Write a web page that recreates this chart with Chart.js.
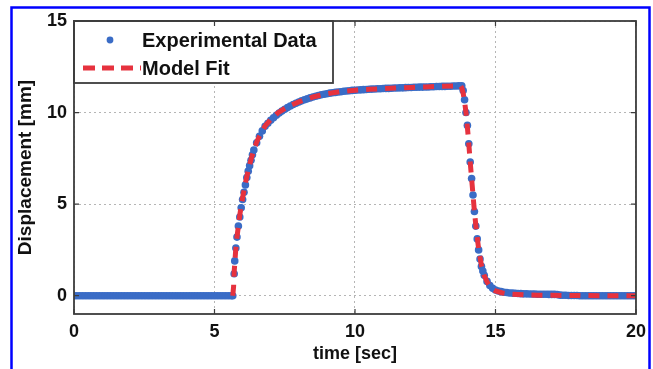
<!DOCTYPE html>
<html>
<head>
<meta charset="utf-8">
<script src="https://cdn.jsdelivr.net/npm/chart.js@4"></script>
<style>
  html, body { margin: 0; padding: 0; background: #fff; }
  #wrap { width: 653px; height: 369px; }
</style>
</head>
<body>
<div id="wrap"><canvas id="c" width="653" height="369"></canvas></div>
<script>
// experimental samples (time in sec, displacement in mm)
const expTime = [
  0,0.1,0.2,0.3,0.4,0.5,0.6,0.7,0.8,0.9,1.0,1.1,1.2,1.3,1.4,1.5,1.6,1.7,1.8,1.9,
  2.0,2.1,2.2,2.3,2.4,2.5,2.6,2.7,2.8,2.9,3.0,3.1,3.2,3.3,3.4,3.5,3.6,3.7,3.8,3.9,
  4.0,4.1,4.2,4.3,4.4,4.5,4.6,4.7,4.8,4.9,5.0,5.1,5.2,5.3,5.4,5.5,5.6,
  5.65,5.7,5.72,5.76,5.8,5.85,5.9,5.95,6.0,6.05,6.1,6.15,6.2,6.25,6.3,6.35,6.4,6.5,6.6,6.7,6.8,6.9,
  7.0,7.1,7.2,7.3,7.4,7.5,7.6,7.7,7.8,7.9,8.0,8.1,8.2,8.3,8.4,8.5,8.6,8.7,8.8,8.9,
  9.0,9.1,9.2,9.3,9.4,9.5,9.6,9.7,9.8,9.9,10.0,10.1,10.2,10.3,10.4,10.5,10.6,10.7,10.8,10.9,
  11.0,11.1,11.2,11.3,11.4,11.5,11.6,11.7,11.8,11.9,12.0,12.1,12.2,12.3,12.4,12.5,12.6,12.7,12.8,12.9,
  13.0,13.1,13.2,13.3,13.4,13.5,13.6,13.7,13.8,
  13.85,13.9,13.95,14.0,14.05,14.1,14.15,14.2,14.25,14.3,14.35,14.4,14.45,14.5,14.55,14.6,
  14.7,14.8,14.9,15.0,15.1,15.2,15.3,15.4,15.5,15.6,15.7,15.8,15.9,
  16.0,16.1,16.2,16.3,16.4,16.5,16.6,16.7,16.8,16.9,17.0,17.1,17.2,17.3,17.4,17.5,17.6,17.7,17.8,17.9,
  18.0,18.1,18.2,18.3,18.4,18.5,18.6,18.7,18.8,18.9,19.0,19.1,19.2,19.3,19.4,19.5,19.6,19.7,19.8,19.9,20.0
];
const expDisp = [
  0,0,0,0,0,0,0,0,0,0,0,0,0,0,0,0,0,0,0,0,
  0,0,0,0,0,0,0,0,0,0,0,0,0,0,0,0,0,0,0,0,
  0,0,0,0,0,0,0,0,0,0,0,0,0,0,0,0,0,
  0,1.2,1.9,2.6,3.2,3.8,4.3,4.8,5.25,5.65,6.05,6.45,6.8,7.1,7.4,7.7,7.95,8.35,8.7,9.0,9.25,9.42,
  9.58,9.72,9.85,9.97,10.08,10.18,10.27,10.36,10.44,10.51,10.58,10.64,10.7,10.75,10.8,10.85,10.89,10.93,10.97,11.0,
  11.03,11.06,11.08,11.1,11.12,11.14,11.16,11.18,11.19,11.21,11.22,11.23,11.24,11.25,11.26,11.27,11.28,11.29,11.3,11.3,
  11.31,11.32,11.32,11.33,11.34,11.34,11.35,11.35,11.36,11.37,11.37,11.38,11.38,11.39,11.39,11.4,11.4,11.41,11.41,11.42,
  11.42,11.43,11.43,11.44,11.44,11.45,11.45,11.46,11.46,
  11.2,10.7,10.0,9.3,8.3,7.3,6.4,5.5,4.6,3.8,3.1,2.5,2.0,1.6,1.35,1.12,
  0.78,0.55,0.4,0.31,0.26,0.22,0.19,0.17,0.15,0.14,0.13,0.12,0.11,
  0.1,0.1,0.09,0.09,0.09,0.08,0.08,0.08,0.08,0.07,0.07,0.07,0.06,0.03,0.02,0.02,0.01,0.01,0.01,0.01,
  0,0,0,0,0,0,0,0,0,0,0,0,0,0,0,0,0,0,0,0,0
];

// model fit curve
const fitTime = [
  5.65,5.68,5.7,5.75,5.8,5.85,5.9,5.95,6.0,6.1,6.2,6.3,6.4,6.5,6.6,6.8,7.0,7.25,7.5,7.75,
  8.0,8.5,9.0,9.5,10.0,10.5,11.0,11.5,12.0,12.5,13.0,13.5,13.75,13.8,13.85,13.9,13.95,14.0,14.05,14.1,
  14.15,14.2,14.25,14.3,14.4,14.5,14.6,14.7,14.8,14.9,15.0,15.25,15.5,16.0,16.5,17.0,18.0,19.0,20.0
];
const fitDisp = [
  0,0.5,1.3,2.4,3.2,3.8,4.4,4.9,5.35,6.15,6.85,7.45,7.95,8.38,8.72,9.27,9.62,9.98,10.22,10.42,
  10.58,10.85,11.03,11.15,11.22,11.27,11.31,11.34,11.37,11.4,11.43,11.45,11.46,11.35,11.05,10.6,10.0,9.2,8.3,7.3,
  6.4,5.5,4.6,3.85,2.55,1.65,1.1,0.75,0.5,0.35,0.26,0.15,0.09,0.05,0.03,0.02,0.01,0,0
];

const xTicks = [0, 5, 10, 15, 20];
const yTicks = [0, 5, 10, 15];

const FONT = "'Liberation Sans', Arial, sans-serif";
const BLUE = "#3a6cc6";
const RED = "#e6323e";

// outer blue frame + plot box with inner tick marks
const framePlugin = {
  id: "frame",
  beforeDraw(chart) {
    const ctx = chart.ctx;
    ctx.save();
    ctx.fillStyle = "#fff";
    ctx.fillRect(0, 0, chart.width, chart.height);
    ctx.strokeStyle = "#0000ff";
    ctx.lineWidth = 2.5;
    ctx.strokeRect(11.5, 7.5, 638, 370);
    ctx.restore();
  },
  afterDraw(chart) {
    const { ctx, chartArea: a, scales } = chart;
    ctx.save();
    ctx.strokeStyle = "#3c3c3c";
    ctx.lineWidth = 1.8;
    ctx.strokeRect(a.left, a.top, a.right - a.left, a.bottom - a.top);
    ctx.lineWidth = 1.2;
    ctx.beginPath();
    xTicks.forEach(v => {
      const x = scales.x.getPixelForValue(v);
      ctx.moveTo(x, a.bottom); ctx.lineTo(x, a.bottom - 5);
      ctx.moveTo(x, a.top); ctx.lineTo(x, a.top + 5);
    });
    yTicks.forEach(v => {
      const y = scales.y.getPixelForValue(v);
      ctx.moveTo(a.left, y); ctx.lineTo(a.left + 5, y);
      ctx.moveTo(a.right, y); ctx.lineTo(a.right - 5, y);
    });
    ctx.stroke();
    ctx.restore();
  }
};

// matlab-style legend box in the top-left corner of the axes
const legendBox = {
  id: "legendBox",
  afterDatasetsDraw(chart) {
    const { ctx, chartArea: a } = chart;
    const ds = chart.data.datasets;
    const w = 259, h = 62;
    ctx.save();
    ctx.fillStyle = "#fff";
    ctx.fillRect(a.left, a.top, w, h);
    ctx.strokeStyle = "#3c3c3c";
    ctx.lineWidth = 1.8;
    ctx.strokeRect(a.left, a.top, w, h);

    const rows = [a.top + 19, a.top + 47];
    ctx.font = "bold 20px " + FONT;
    ctx.textBaseline = "middle";

    // experimental data entry
    ctx.beginPath();
    ctx.arc(a.left + 36, rows[0], 3.4, 0, Math.PI * 2);
    ctx.fillStyle = ds[1].backgroundColor;
    ctx.fill();
    ctx.fillStyle = "#111";
    ctx.fillText(ds[1].label, a.left + 68, rows[0] + 1);

    // model fit entry
    ctx.strokeStyle = ds[0].borderColor;
    ctx.lineWidth = 5;
    ctx.setLineDash([12, 7]);
    ctx.beginPath();
    ctx.moveTo(a.left + 9, rows[1]);
    ctx.lineTo(a.left + 67, rows[1]);
    ctx.stroke();
    ctx.setLineDash([]);
    ctx.fillText(ds[0].label, a.left + 68, rows[1] + 1);
    ctx.restore();
  }
};

new Chart(document.getElementById("c"), {
  type: "scatter",
  data: {
    datasets: [
      {
        label: "Model Fit",
        data: fitTime.map((t, i) => ({ x: t, y: fitDisp[i] })),
        showLine: true,
        borderColor: RED,
        borderWidth: 5,
        borderDash: [11, 8],
        pointRadius: 0,
        order: 1
      },
      {
        label: "Experimental Data",
        data: expTime.map((t, i) => ({ x: t, y: expDisp[i] })),
        showLine: false,
        backgroundColor: BLUE,
        borderWidth: 0,
        pointRadius: 3.8,
        order: 2
      }
    ]
  },
  options: {
    responsive: false,
    animation: false,
    events: [],
    layout: { padding: { left: 12, top: 21, right: 16, bottom: 0 } },
    plugins: { legend: { display: false }, tooltip: { enabled: false } },
    scales: {
      x: {
        type: "linear",
        min: 0,
        max: 20,
        afterBuildTicks: s => { s.ticks = xTicks.map(v => ({ value: v })); },
        afterFit: s => { s.height = 55; },
        border: { display: false, dash: [2, 3] },
        grid: { color: "#b5b5b5", lineWidth: 1, drawTicks: false },
        ticks: { color: "#111", font: { family: FONT, size: 18, weight: "bold" }, padding: 7, maxRotation: 0 },
        title: { display: true, text: "time [sec]", color: "#111", font: { family: FONT, size: 18, weight: "bold" }, padding: { top: 0, bottom: 4 } }
      },
      y: {
        type: "linear",
        min: -1,
        max: 15,
        afterBuildTicks: s => { s.ticks = yTicks.map(v => ({ value: v })); },
        afterFit: s => { s.width = 62; },
        border: { display: false, dash: [2, 3] },
        grid: { color: "#b5b5b5", lineWidth: 1, drawTicks: false },
        ticks: { color: "#111", font: { family: FONT, size: 18, weight: "bold" }, padding: 7 },
        title: { display: true, text: "Displacement [mm]", color: "#111", font: { family: FONT, size: 19, weight: "bold" }, padding: { top: 2, bottom: 0 } }
      }
    }
  },
  plugins: [framePlugin, legendBox]
});
</script>
</body>
</html>
